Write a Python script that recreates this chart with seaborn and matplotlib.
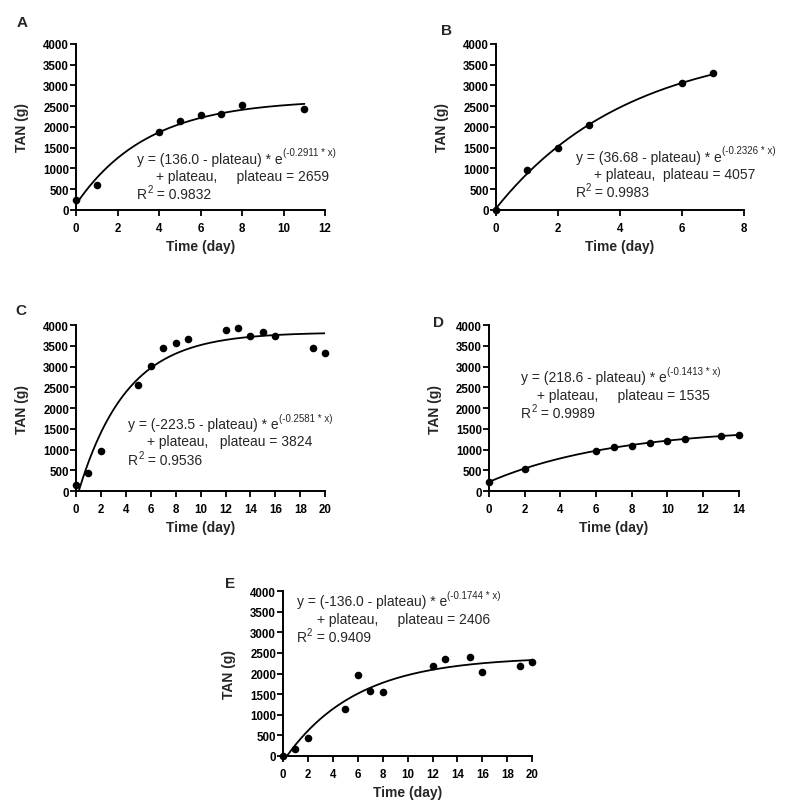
import numpy as np
import pandas as pd
import matplotlib
matplotlib.use("Agg")
import matplotlib.pyplot as plt
import seaborn as sns

days_a = [0, 1, 4, 5, 6, 7, 8, 11]
tan_a = [250, 596, 1867, 2133, 2286, 2302, 2527, 2423]

days_b = [0, 1, 2, 3, 6, 7]
tan_b = [10, 974, 1497, 2052, 3058, 3292]

days_c = [0, 1, 2, 5, 6, 7, 8, 9, 12, 13, 14, 15, 16, 19, 20]
tan_c = [153, 443, 958, 2543, 3002, 3437, 3557, 3654, 3879, 3920, 3734, 3831, 3734, 3453, 3324]

days_d = [0, 2, 6, 7, 8, 9, 10, 11, 13, 14]
tan_d = [225, 539, 966, 1062, 1095, 1167, 1207, 1256, 1320, 1344]

days_e = [0, 1, 2, 5, 6, 7, 8, 12, 13, 15, 16, 19, 20]
tan_e = [8, 161, 443, 1151, 1956, 1569, 1545, 2189, 2350, 2390, 2028, 2181, 2278]

# one-phase association fits: y0, k, plateau, r2
fit_a = (136.0, 0.2911, 2659, 0.9832)
fit_b = (36.68, 0.2326, 4057, 0.9983)
fit_c = (-223.5, 0.2581, 3824, 0.9536)
fit_d = (218.6, 0.1413, 1535, 0.9989)
fit_e = (-136.0, 0.1744, 2406, 0.9409)

y0_labels = ["136.0", "36.68", "-223.5", "218.6", "-136.0"]
k_labels = ["0.2911", "0.2326", "0.2581", "0.1413", "0.1744"]
gaps = [5, 2, 3, 5, 5]

sns.set_style("ticks")
plt.rcParams['font.family'] = ['Liberation Sans', 'DejaVu Sans']

fig = plt.figure(figsize=(7.91, 8.04), dpi=100)

panels = [
    # letter, days, tan, fit, xmax, fit end, axes rect, letter pos, text anchor, line2 x
    ("A", days_a, tan_a, fit_a, 12, 11, [0.0961, 0.7376, 0.315, 0.2065], (0.021, 0.972), (0.245, 0.313), 0.321),
    ("B", days_b, tan_b, fit_b, 8, 7, [0.627, 0.7376, 0.3135, 0.2065], (0.558, 0.962), (0.321, 0.325), 0.395),
    ("C", days_c, tan_c, fit_c, 20, 20, [0.0961, 0.388, 0.315, 0.2065], (0.019, 0.613), (0.21, 0.408), 0.284),
    ("D", days_d, tan_d, fit_d, 14, 14, [0.618, 0.388, 0.316, 0.2065], (0.548, 0.598), (0.128, 0.689), 0.191),
    ("E", days_e, tan_e, fit_e, 20, 20, [0.3578, 0.0585, 0.315, 0.205], (0.285, 0.274), (0.055, 0.941), 0.135),
]

for i, (letter, days, tan, fit, xmax, xfit, rect, lpos, tpos, x2) in enumerate(panels):
    ax = fig.add_axes(rect)
    y0, k, plateau, r2 = fit
    xs = np.linspace(0, xfit, 300)
    curve = pd.DataFrame({"x": xs, "y": (y0 - plateau) * np.exp(-k * xs) + plateau})
    sns.lineplot(data=curve, x="x", y="y", ax=ax, color="black", linewidth=1.3)
    pts = pd.DataFrame({"day": days, "tan": tan})
    sns.scatterplot(data=pts, x="day", y="tan", ax=ax, color="black", s=30,
                    edgecolor="black", linewidth=0, clip_on=False, zorder=5)

    ax.set_xlim(0, xmax)
    ax.set_ylim(0, 4000)
    ax.set_xticks(np.arange(0, xmax + 1, 2))
    ax.set_yticks(np.arange(0, 4001, 500))
    ax.set_xlabel("Time (day)", fontsize=10, fontweight="bold", labelpad=4)
    ax.set_ylabel("TAN (g)", fontsize=10, fontweight="bold", labelpad=10)
    for lab in ax.get_xticklabels() + ax.get_yticklabels():
        lab.set_fontweight("bold")
    ax.tick_params(axis="both", direction="out", length=4, width=1.3, labelsize=8.3,
                   color="black", labelcolor="black")
    ax.tick_params(axis="x", pad=4.5)
    ax.tick_params(axis="y", pad=1)
    sns.despine(ax=ax)
    for sp in ["left", "bottom"]:
        ax.spines[sp].set_linewidth(1.4)
        ax.spines[sp].set_color("black")

    fig.text(lpos[0], lpos[1], letter, fontsize=11, fontweight="bold", va="center")

    # fit equation, three lines
    tx, ty = tpos
    base = ty - 0.028
    t1 = ax.text(tx, base, "y = (" + y0_labels[i] + " - plateau) * e",
                 transform=ax.transAxes, fontsize=10, va="baseline")
    ax.annotate("(-" + k_labels[i] + " * x)", xy=(1, 0), xycoords=t1,
                xytext=(0.3, 7.5), textcoords="offset points", fontsize=7, va="baseline")
    ax.text(x2, base - 0.105, "+ plateau," + " " * gaps[i] + "plateau = " + str(plateau),
            transform=ax.transAxes, fontsize=10, va="baseline")
    t3 = ax.text(tx, base - 0.215, "R", transform=ax.transAxes, fontsize=10, va="baseline")
    ax.annotate("2", xy=(1, 0), xycoords=t3, xytext=(0.2, 6.5), textcoords="offset points",
                fontsize=7, va="baseline")
    ax.annotate(" = " + f"{r2:.4f}", xy=(1, 0), xycoords=t3, xytext=(4.2, 2.1),
                textcoords="offset points", fontsize=10, va="baseline")

fig.savefig("out.png", dpi=100, facecolor="white")
